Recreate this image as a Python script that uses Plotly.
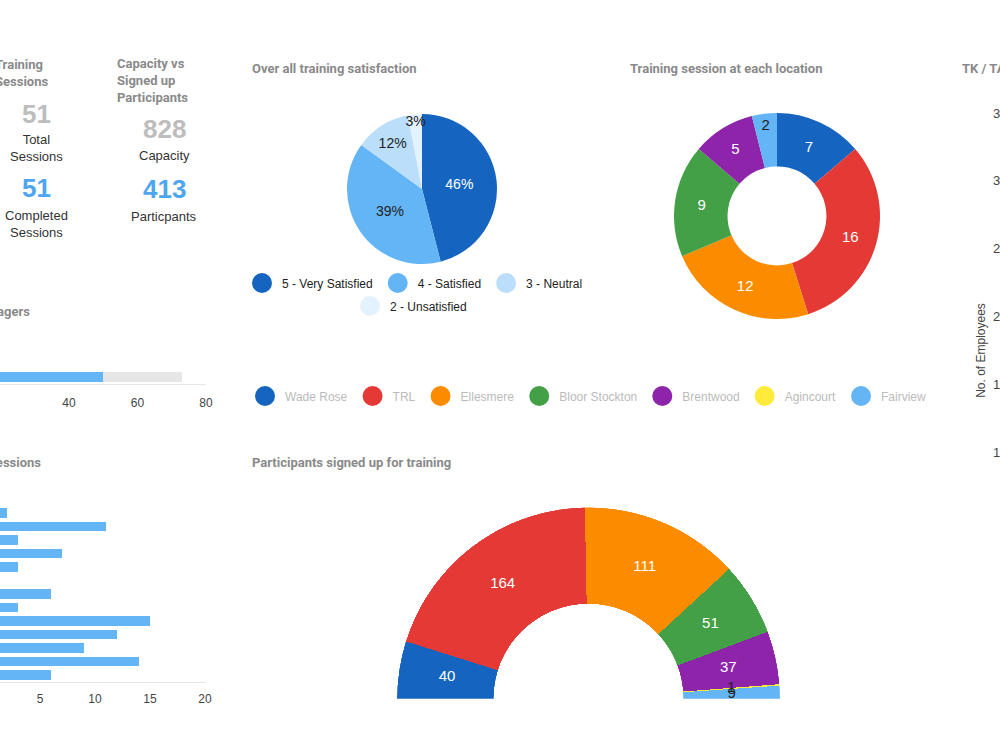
import numpy as np
import plotly.graph_objects as go

# ---------------- data ----------------
total_sessions = 51
completed_sessions = 51
capacity = 828
participants_total = 413

sat_labels = ["5 - Very Satisfied", "4 - Satisfied", "3 - Neutral", "2 - Unsatisfied"]
sat_values = [46, 39, 12, 3]
sat_colors = ["#1565c0", "#64b5f6", "#bbdefb", "#e3f2fd"]
sat_textcolors = ["#ffffff", "#222222", "#222222", "#222222"]

loc_labels = ["Wade Rose", "TRL", "Ellesmere", "Bloor Stockton", "Brentwood", "Agincourt", "Fairview"]
loc_sessions = [7, 16, 12, 9, 5, 0, 2]
loc_participants = [40, 164, 111, 51, 37, 1, 9]
loc_colors = ["#1565c0", "#e53935", "#fb8c00", "#43a047", "#8e24aa", "#ffeb3b", "#64b5f6"]
loc_textcolors = ["#ffffff", "#ffffff", "#ffffff", "#ffffff", "#ffffff", "#222222", "#222222"]

managers_cat = ["Managers"]
managers_trained = [50]
managers_total = [73]
managers_ticks = [20, 40, 60, 80]

trainers = ["Trainer A", "Trainer B", "Trainer C", "Trainer D", "Trainer E", "Trainer F", "Trainer G",
            "Trainer H", "Trainer I", "Trainer J", "Trainer K", "Trainer L", "Trainer M"]
trainer_sessions = [2, 11, 3, 7, 3, 0, 6, 3, 15, 12, 9, 14, 6]
trainer_ticks = [5, 10, 15, 20]

emp_ticks = [10, 15, 20, 25, 30, 35]

# ---------------- helpers ----------------
W, H = 1000, 750
def px(x):
    return x / W
def py(y):
    return 1 - y / H

FONT = "Liberation Sans, Arial, sans-serif"
TFONT = "Roboto, Liberation Sans, Arial, sans-serif"
TITLE_COLOR = "#8a8a8a"
BAR_BLUE = "#64b5f6"

fig = go.Figure()

# Managers bar (stacked: trained + remaining)
managers_remaining = [t - d for t, d in zip(managers_total, managers_trained)]
fig.add_trace(go.Bar(y=managers_cat, x=managers_trained, orientation="h",
                     marker=dict(color=BAR_BLUE, line=dict(width=0)),
                     xaxis="x", yaxis="y", showlegend=False, hoverinfo="x"))
fig.add_trace(go.Bar(y=managers_cat, x=managers_remaining, orientation="h",
                     marker=dict(color="#e6e6e6", line=dict(width=0)),
                     xaxis="x", yaxis="y", showlegend=False, hoverinfo="x"))

# Trainer sessions bar
fig.add_trace(go.Bar(y=trainers, x=trainer_sessions, orientation="h",
                     marker=dict(color=BAR_BLUE, line=dict(width=0)),
                     xaxis="x2", yaxis="y2", showlegend=False))

# Satisfaction pie
fig.add_trace(go.Pie(labels=sat_labels, values=sat_values, sort=False, direction="clockwise",
                     rotation=0, marker=dict(colors=sat_colors, line=dict(width=0)),
                     texttemplate="%{percent:.0%}", textposition="inside",
                     insidetextorientation="horizontal",
                     insidetextfont=dict(color=sat_textcolors, size=14, family=FONT),
                     domain=dict(x=[px(347), px(497)], y=[py(264), py(114)]),
                     showlegend=False))

# Sessions per location donut
loc_tt = ["%{value}" if v > 0 else "" for v in loc_sessions]
fig.add_trace(go.Pie(labels=loc_labels, values=loc_sessions, sort=False, direction="clockwise",
                     rotation=0, hole=0.48, marker=dict(colors=loc_colors, line=dict(width=0)),
                     texttemplate=loc_tt, textposition="inside",
                     insidetextorientation="horizontal",
                     insidetextfont=dict(color=loc_textcolors, size=15, family=FONT),
                     domain=dict(x=[px(674), px(880)], y=[py(319), py(113)]),
                     showlegend=False))

# Participants half donut (barpolar)
part = np.array(loc_participants, dtype=float)
tot = part.sum()
cum = np.concatenate([[0], np.cumsum(part)])
theta_c = (cum[:-1] + part / 2) / tot * 180
widths = part / tot * 180
fig.add_trace(go.Barpolar(r=[1] * len(part), theta=theta_c, width=widths, base=0,
                          marker=dict(color=loc_colors, line=dict(width=0)),
                          subplot="polar", showlegend=False, hovertext=loc_labels))
fig.add_trace(go.Scatterpolar(r=[0.5] * len(part), theta=theta_c, mode="text",
                              text=[str(v) for v in loc_participants],
                              textfont=dict(color=loc_textcolors, size=15, family=FONT),
                              subplot="polar", showlegend=False, cliponaxis=False))

# Legend entries (circles)
for lab, col in zip(sat_labels, sat_colors):
    fig.add_trace(go.Scatter(x=[None], y=[None], mode="markers", name=lab,
                             marker=dict(symbol="circle", size=16, color=col, line=dict(color=col, width=4)),
                             xaxis="x5", yaxis="y5",
                             legend="legend3" if lab.startswith("2") else "legend"))
for lab, col in zip(loc_labels, loc_colors):
    fig.add_trace(go.Scatter(x=[None], y=[None], mode="markers", name=lab,
                             marker=dict(symbol="circle", size=16, color=col, line=dict(color=col, width=4)),
                             xaxis="x5", yaxis="y5", legend="legend2"))

# ---------------- annotations ----------------
anns = []
def ann(text, x, y, size=13, color="#333333", bold=False, xanchor="center", family=FONT, align="center"):
    if bold:
        text = "<b>" + text + "</b>"
    anns.append(dict(text=text, x=px(x), y=py(y), xref="paper", yref="paper", showarrow=False,
                     xanchor=xanchor, yanchor="middle", align=align,
                     font=dict(size=size, color=color, family=family)))

ann("Training<br>Sessions", -7, 73.5, bold=True, color=TITLE_COLOR, xanchor="left", family=TFONT, align="left")
ann("Capacity vs<br>Signed up<br>Participants", 115, 81, bold=True, color=TITLE_COLOR, xanchor="left", family=TFONT, align="left")
ann("Over all training satisfaction", 250, 69, bold=True, color=TITLE_COLOR, xanchor="left", family=TFONT)
ann("Training session at each location", 628, 69, bold=True, color=TITLE_COLOR, xanchor="left", family=TFONT)
ann("TK / TA Training", 960, 69, bold=True, color=TITLE_COLOR, xanchor="left", family=TFONT)
ann("Trained Managers", 32, 311, bold=True, color=TITLE_COLOR, xanchor="right", family=TFONT)
ann("Trainer Sessions", 43, 462, bold=True, color=TITLE_COLOR, xanchor="right", family=TFONT)
ann("Participants signed up for training", 250, 462, bold=True, color=TITLE_COLOR, xanchor="left", family=TFONT)

ann(str(total_sessions), 36, 114, size=26, color="#bdbdbd", bold=True)
ann("Total<br>Sessions", 36, 148.5, size=13, color="#333333")
ann(str(completed_sessions), 36, 188, size=26, color="#4da6ef", bold=True)
ann("Completed<br>Sessions", 36, 223.5, size=13, color="#333333")
ann(str(capacity), 164, 129, size=26, color="#bdbdbd", bold=True)
ann("Capacity", 164, 156, size=13, color="#333333")
ann(str(participants_total), 164, 189, size=26, color="#4da6ef", bold=True)
ann("Particpants", 164, 216, size=13, color="#333333")

# ---------------- layout ----------------
axis_common = dict(showgrid=False, zeroline=False, automargin=False, fixedrange=True)
legend_common = dict(orientation="h", xanchor="left", yanchor="middle", traceorder="normal",
                     bgcolor="rgba(0,0,0,0)")
fig.update_layout(
    template="none",
    width=W, height=H,
    margin=dict(l=0, r=0, t=0, b=0),
    paper_bgcolor="white", plot_bgcolor="white",
    font=dict(family=FONT, size=12, color="#444444"),
    barmode="stack", bargap=0.3,
    uniformtext=dict(minsize=14, mode="show"),
    annotations=anns,
    xaxis=dict(domain=[0, 0.206], range=[19.85, 80], tickvals=managers_ticks, anchor="y",
               showline=True, linecolor="#e6e6e6", linewidth=1, ticks="", ticklabelstandoff=8,
               tickfont=dict(size=12, color="#444444"), **axis_common),
    yaxis=dict(domain=[py(384), py(370)], range=[-0.5, 0.5], anchor="x", showticklabels=False,
               showline=False, ticks="", **axis_common),
    xaxis2=dict(domain=[0, 0.205], range=[15 / 11, 20], tickvals=trainer_ticks, anchor="y2",
                showline=True, linecolor="#e6e6e6", linewidth=1, ticks="", ticklabelstandoff=6,
                tickfont=dict(size=12, color="#444444"), **axis_common),
    yaxis2=dict(domain=[py(682), py(506)], range=[12.5, -0.5], anchor="x2", showticklabels=False,
                showline=False, ticks="", categoryorder="array", categoryarray=trainers, **axis_common),
    xaxis5=dict(domain=[0.99, 1.0], range=[0, 1], anchor="y5", visible=False, **axis_common),
    yaxis5=dict(domain=[py(588), py(113)], range=[0, 35], tickvals=emp_ticks, anchor="x5",
                ticklabelposition="inside", ticklabeloverflow="allow", ticks="", showline=False,
                tickfont=dict(size=13, color="#444444"),
                title=dict(text="No. of Employees", font=dict(size=12, color="#444444"), standoff=4),
                **axis_common),
    polar=dict(domain=dict(x=[px(397), px(780)], y=[py(699), py(507)]),
               sector=[0, 180], hole=0.495, bgcolor="white",
               radialaxis=dict(visible=False, range=[0, 1]),
               angularaxis=dict(visible=False, rotation=180, direction="clockwise")),
    legend=dict(x=px(242), y=py(283), font=dict(size=12, color="#222222", family=FONT), **legend_common),
    legend3=dict(x=px(350), y=py(306), font=dict(size=12, color="#222222", family=FONT), **legend_common),
    legend2=dict(x=px(245), y=py(396), font=dict(size=12, color="#bbbbbb", family=FONT), **legend_common),
)

fig.write_html("out.html")
